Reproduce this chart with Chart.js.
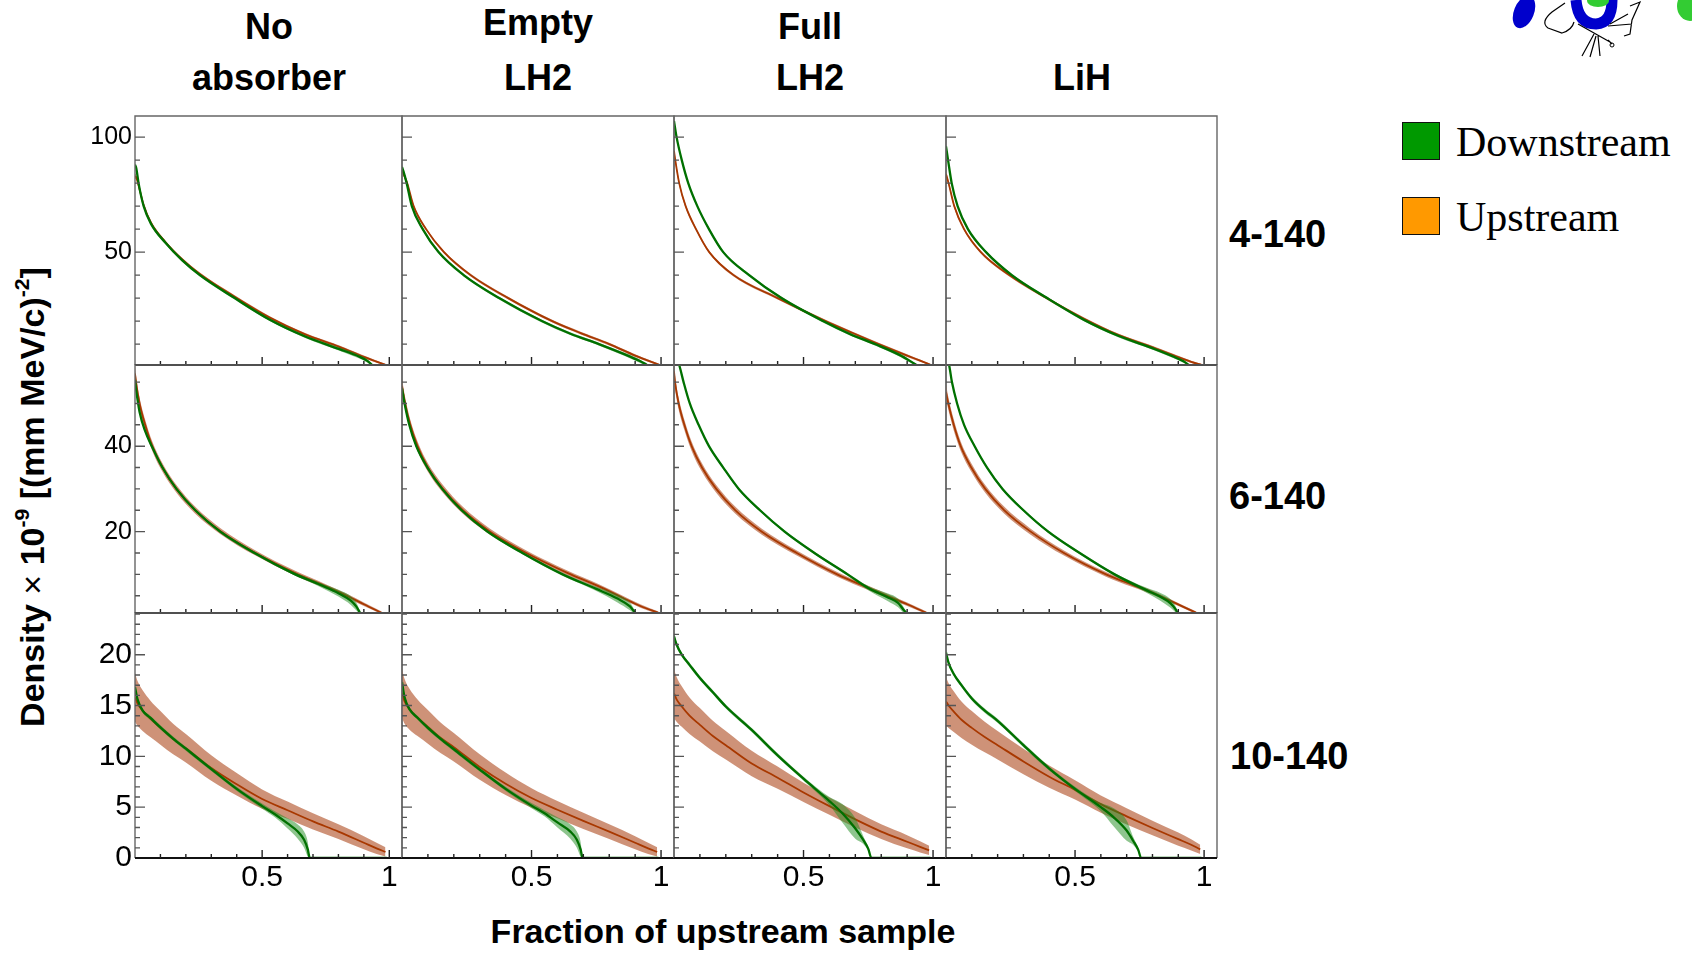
<!DOCTYPE html>
<html>
<head>
<meta charset="utf-8">
<script src="https://cdn.jsdelivr.net/npm/chart.js@4.4.1/dist/chart.umd.min.js"></script>
<style>
  body { margin: 0; width: 1692px; height: 954px; background: #fff; position: relative; overflow: hidden;
         font-family: "Liberation Sans", Arial, Helvetica, sans-serif; }
  canvas.panel { position: absolute; }
  .txt { position: absolute; white-space: nowrap; line-height: 1; color: #000; font-weight: bold; }
  .ctr { transform: translateX(-50%); }
  .leg { position: absolute; white-space: nowrap; line-height: 1; font-family: "Liberation Serif", "Times New Roman", serif; font-size: 42px; }
  .box { position: absolute; width: 36px; height: 36px; border: 1.5px solid #111; }
  sup { font-size: 62%; vertical-align: 0; position: relative; top: -0.7em; }
</style>
</head>
<body>

<!-- column titles -->
<div class="txt ctr" style="left:269px; top:9px; font-size:36px;">No</div>
<div class="txt ctr" style="left:269px; top:60px; font-size:36px;">absorber</div>
<div class="txt ctr" style="left:538px; top:5px; font-size:36px;">Empty</div>
<div class="txt ctr" style="left:538px; top:60px; font-size:36px;">LH2</div>
<div class="txt ctr" style="left:810px; top:9px; font-size:36px;">Full</div>
<div class="txt ctr" style="left:810px; top:60px; font-size:36px;">LH2</div>
<div class="txt ctr" style="left:1082px; top:60px; font-size:36px;">LiH</div>

<!-- row labels -->
<div class="txt" id="row0" style="left:1229px; top:215px; font-size:38px;"></div>
<div class="txt" id="row1" style="left:1229px; top:477px; font-size:38px;"></div>
<div class="txt" id="row2" style="left:1230px; top:737px; font-size:38px;"></div>

<!-- axis titles -->
<div class="txt" style="left:32px; top:497px; font-size:34px; transform: translate(-50%,-50%) rotate(-90deg);">
  Density <span style="font-weight:normal">&times;</span> 10<sup>-9</sup> [(mm MeV/c)<sup>-2</sup>]
</div>
<div class="txt ctr" style="left:723px; top:914px; font-size:34px;">Fraction of upstream sample</div>

<!-- legend -->
<div class="box" style="left:1402px; top:122px; background:#009900;"></div>
<div class="leg" style="left:1456px; top:121px;">Downstream</div>
<div class="box" style="left:1402px; top:197px; background:#ff9900;"></div>
<div class="leg" style="left:1456px; top:196px;">Upstream</div>

<!-- logo corner -->
<svg style="position:absolute; left:1500px; top:0;" width="192" height="60" viewBox="1500 0 192 60">
  <ellipse cx="1524" cy="12" rx="10" ry="17" transform="rotate(22 1524 12)" fill="#0000cc"/>
  <path d="M1576 0 Q1578 24 1596 24 Q1612 23 1612 0" fill="none" stroke="#0000cc" stroke-width="11"/>
  <ellipse cx="1598" cy="1" rx="11" ry="6" fill="#33cc33"/>
  <ellipse cx="1690" cy="6" rx="13" ry="15" fill="#33cc33"/>
  <path d="M1565 3 L1552 12 Q1540 22 1548 28 L1562 33 Q1572 30 1574 22" fill="none" stroke="#000" stroke-width="1.2"/>
  <path d="M1578 24 L1610 42 M1594 34 L1582 56 M1596 36 L1590 57 M1598 36 L1600 56 M1608 40 L1612 44"
        fill="none" stroke="#000" stroke-width="1.2"/>
  <path d="M1610 24 L1628 14 M1608 26 L1632 24 M1630 6 L1640 2 L1632 20 L1630 34 L1624 36"
        fill="none" stroke="#000" stroke-width="1.2"/>
  <circle cx="1612" cy="45" r="2" fill="none" stroke="#000" stroke-width="1"/>
</svg>

<script>
// ---------- data: [fraction of upstream sample, density, band half-width] ----------
const absorbers = ["No absorber", "Empty LH2", "Full LH2", "LiH"];
const rangeLabels = ["4-140", "6-140", "10-140"];

// 4-140
const upNone4 = [[0,83,1.2],[0.005,82.5,1],[0.014,79,0.9],[0.034,70.5,0.7],[0.063,62.8,0.6],[0.118,54.6,0.6],[0.186,46.8,0.6],
  [0.255,40.5,0.6],[0.392,30.6,0.6],[0.53,21.5,0.6],[0.667,14.3,0.6],[0.804,8.8,0.6],[0.9,4.4,0.6],[0.95,2.4,0.5],[0.985,1,0.4]];
const downNone4 = [[0,88,0.8],[0.005,86.5,0.8],[0.014,80,0.7],[0.034,70,0.6],[0.063,62.3,0.6],[0.118,54.3,0.6],[0.186,46.4,0.6],
  [0.255,40,0.6],[0.392,30,0.6],[0.53,20.6,0.6],[0.667,13.4,0.6],[0.804,7.8,0.7],[0.88,4.6,0.8],[0.915,2.6,0.7],[0.932,1,0.5]];
const upEmpty4 = [[0,86,1.2],[0.006,84,1],[0.02,80,0.9],[0.045,70,0.7],[0.093,60,0.6],[0.162,50,0.6],[0.265,40,0.6],
  [0.41,30,0.6],[0.58,20,0.6],[0.69,14.8,0.6],[0.8,10,0.6],[0.9,5,0.6],[0.95,2.8,0.5],[0.993,1,0.4]];
const downEmpty4 = [[0,87,0.8],[0.006,85,0.8],[0.018,80,0.7],[0.038,70,0.6],[0.08,60,0.6],[0.141,50,0.6],[0.238,40,0.6],
  [0.375,30,0.6],[0.54,20,0.6],[0.65,14.5,0.6],[0.76,10,0.6],[0.86,5.5,0.7],[0.92,2.5,0.7],[0.945,1,0.5]];
const upFull4 = [[0,94,1.5],[0.005,90,1.3],[0.02,80,1],[0.045,70,0.8],[0.085,60,0.7],[0.136,50,0.6],[0.23,40,0.6],
  [0.4,30,0.6],[0.585,20,0.6],[0.69,14.8,0.6],[0.79,10,0.6],[0.9,5,0.6],[0.95,2.8,0.5],[0.99,1,0.4]];
const downFull4 = [[0,107,1],[0.01,100,0.9],[0.03,90,0.8],[0.055,80,0.7],[0.09,70,0.6],[0.135,60,0.6],[0.19,50,0.6],
  [0.29,40,0.6],[0.415,30,0.6],[0.575,20,0.6],[0.68,14.3,0.6],[0.78,9.8,0.6],[0.87,5.3,0.7],[0.935,1,0.5]];
const upLih4 = [[0,84,1.3],[0.01,80,1],[0.032,70,0.8],[0.07,60,0.7],[0.135,50,0.6],[0.245,40,0.6],[0.39,30,0.6],
  [0.535,21,0.6],[0.667,14,0.6],[0.804,8.5,0.6],[0.9,4.3,0.6],[0.95,2.3,0.5],[0.99,1,0.4]];
const downLih4 = [[0,96,1],[0.008,90,0.9],[0.022,80,0.8],[0.045,70,0.7],[0.085,60,0.6],[0.155,50,0.6],[0.255,40,0.6],
  [0.392,30,0.6],[0.535,20.5,0.6],[0.667,13.6,0.6],[0.804,8,0.6],[0.88,4.6,0.7],[0.92,2.5,0.6],[0.94,1,0.5]];

// 6-140
const upNone6 = [[0,57,1.8],[0.004,55,1.6],[0.018,50,1.4],[0.04,45,1.2],[0.068,40,1.1],[0.108,35,1],[0.163,30,0.9],[0.237,25,0.8],
  [0.339,20,0.7],[0.474,15,0.6],[0.63,10.3,0.55],[0.75,7.2,0.5],[0.833,5,0.45],[0.9,3,0.4],[0.97,1,0.3]];
const downNone6 = [[0,55.5,0.5],[0.005,53,0.4],[0.018,48,0.3],[0.04,43.5,0.3],[0.066,40,0.3],[0.108,35,0.3],[0.163,30,0.3],[0.237,25,0.3],
  [0.335,20,0.3],[0.47,15,0.3],[0.62,10.3,0.35],[0.73,7.5,0.5],[0.8,5.6,0.8],[0.85,3.8,1],[0.87,2.5,0.9],[0.885,1,0.4]];
const upEmpty6 = [[0,54,1.8],[0.012,50,1.5],[0.032,45,1.2],[0.06,40,1.1],[0.1,35,1],[0.158,30,0.9],[0.235,25,0.8],[0.34,20,0.7],
  [0.48,15,0.6],[0.64,10.3,0.55],[0.76,7.2,0.5],[0.85,4.6,0.45],[0.92,2.6,0.4],[0.99,1,0.3]];
const downEmpty6 = [[0,53.5,0.5],[0.01,50,0.4],[0.028,45,0.3],[0.055,40,0.3],[0.098,35,0.3],[0.155,30,0.3],[0.23,25,0.3],[0.33,20,0.3],
  [0.465,15,0.3],[0.62,10,0.35],[0.75,6.6,0.5],[0.83,4.4,0.9],[0.88,2.5,0.9],[0.9,1,0.4]];
const upFull6 = [[0,57.5,1.8],[0.004,55,1.6],[0.018,50,1.4],[0.04,45,1.2],[0.068,40,1.1],[0.108,35,1],[0.163,30,0.9],[0.237,25,0.8],
  [0.339,20,0.7],[0.474,15,0.6],[0.63,10,0.55],[0.752,6.8,0.5],[0.833,4.7,0.45],[0.9,3,0.4],[0.975,1,0.3]];
const downFull6 = [[0,62,0.5],[0.02,59,0.4],[0.037,55,0.3],[0.061,50,0.3],[0.095,45,0.3],[0.135,40,0.3],[0.19,35,0.3],[0.25,30,0.3],
  [0.332,25,0.3],[0.427,20,0.3],[0.542,15,0.3],[0.67,10,0.35],[0.75,6.8,0.5],[0.826,4.6,0.9],[0.865,3.3,1],[0.885,1.8,0.7],[0.897,1,0.3]];
const upLih6 = [[0,52.7,1.8],[0.009,50,1.5],[0.03,45,1.3],[0.057,40,1.1],[0.098,35,1],[0.152,30,0.9],[0.226,25,0.8],[0.328,20,0.7],
  [0.457,15,0.6],[0.62,10,0.55],[0.72,7.6,0.5],[0.79,6,0.45],[0.87,3.8,0.4],[0.97,1,0.3]];
const downLih6 = [[0,61,0.5],[0.012,59,0.4],[0.023,55,0.3],[0.043,50,0.3],[0.07,45,0.3],[0.111,40,0.3],[0.159,35,0.3],[0.219,30,0.3],
  [0.3,25,0.3],[0.396,20,0.3],[0.518,15,0.3],[0.653,10,0.35],[0.78,6.2,0.6],[0.829,4.8,0.9],[0.87,3.2,1],[0.89,1.8,0.7],[0.897,1,0.3]];

// 10-140
const upNone10 = [[0,15.8,2.4],[0.01,15.2,2.2],[0.03,14.5,2],[0.06,13.7,1.8],[0.1,12.8,1.65],[0.15,11.7,1.5],[0.2,10.8,1.4],[0.3,8.85,1.25],
  [0.4,7.25,1.1],[0.5,5.8,0.95],[0.6,4.7,0.85],[0.7,3.6,0.8],[0.8,2.6,0.72],[0.9,1.5,0.65],[0.95,0.95,0.55],[0.985,0.6,0.45]];
const downNone10 = [[0,16.8,0.3],[0.01,15.6,0.25],[0.03,14.5,0.2],[0.06,13.8,0.2],[0.1,12.85,0.2],[0.15,11.75,0.2],[0.2,10.75,0.2],
  [0.3,8.75,0.2],[0.4,6.8,0.2],[0.5,5.1,0.25],[0.55,4.3,0.3],[0.6,3.4,0.5],[0.64,2.6,0.7],[0.665,1.8,0.8],[0.68,0.8,0.7],[0.687,0,0.05],[0.99,0,0.05]];
const upEmpty10 = [[0,16.2,2.4],[0.01,15.4,2.2],[0.03,14.6,2],[0.06,13.8,1.8],[0.1,12.9,1.65],[0.15,11.8,1.5],[0.2,10.9,1.4],[0.3,8.95,1.25],
  [0.4,7.3,1.1],[0.5,5.9,0.95],[0.6,4.75,0.85],[0.7,3.65,0.8],[0.8,2.6,0.72],[0.9,1.5,0.65],[0.95,0.95,0.55],[0.985,0.6,0.45]];
const downEmpty10 = [[0,17.3,0.3],[0.01,15.8,0.25],[0.03,14.6,0.2],[0.06,13.8,0.2],[0.1,12.8,0.2],[0.15,11.7,0.2],[0.2,10.7,0.2],
  [0.3,8.7,0.2],[0.4,6.8,0.2],[0.5,5.15,0.25],[0.55,4.4,0.3],[0.6,3.5,0.5],[0.65,2.6,0.7],[0.675,1.8,0.8],[0.69,0.8,0.7],[0.697,0,0.05],[0.99,0,0.05]];
const upFull10 = [[0,16.2,2.4],[0.01,15.6,2.2],[0.03,14.9,2],[0.06,14,1.8],[0.1,13.1,1.65],[0.15,12,1.5],[0.2,11.1,1.4],[0.3,9.3,1.25],
  [0.4,7.9,1.1],[0.5,6.45,0.95],[0.6,5.1,0.85],[0.7,3.8,0.8],[0.8,2.6,0.72],[0.9,1.6,0.65],[0.95,1.1,0.55],[0.985,0.75,0.45]];
const downFull10 = [[0,21.8,0.3],[0.01,21,0.25],[0.03,20,0.2],[0.06,19,0.2],[0.1,17.7,0.2],[0.15,16.3,0.2],[0.2,14.9,0.2],
  [0.3,12.6,0.2],[0.4,10.1,0.2],[0.5,7.8,0.2],[0.6,5.6,0.4],[0.65,4.4,0.9],[0.7,2.9,1],[0.73,1.8,0.4],[0.75,0.9,0.2],[0.762,0,0.05],[0.99,0,0.05]];
const upLih10 = [[0,15.4,2.4],[0.01,15,2.2],[0.03,14.4,2],[0.06,13.6,1.8],[0.1,12.8,1.65],[0.15,11.9,1.5],[0.2,11.1,1.4],[0.3,9.5,1.25],
  [0.4,8,1.1],[0.5,6.7,0.95],[0.6,5.3,0.85],[0.7,4.1,0.8],[0.8,2.95,0.72],[0.9,1.85,0.65],[0.95,1.3,0.55],[0.985,0.85,0.45]];
const downLih10 = [[0,20.2,0.3],[0.01,19.2,0.25],[0.03,18.1,0.2],[0.06,17,0.2],[0.1,15.7,0.2],[0.15,14.5,0.2],[0.2,13.5,0.2],
  [0.3,11.1,0.2],[0.4,8.8,0.2],[0.5,6.8,0.2],[0.6,5,0.4],[0.65,4,0.9],[0.7,2.7,1],[0.725,1.7,0.4],[0.745,0.8,0.2],[0.756,0,0.05],[0.99,0,0.05]];

// axis ticks
const xTickLabels = [0.5, 1];
const yTicks4 = [50, 100];
const yTicks6 = [20, 40];
const yTicks10 = [0, 5, 10, 15, 20];

// ---------- layout ----------
const colLeft = [135, 402, 674, 946, 1217];
const rowTop = [116, 365, 613, 858];
const padL = 70, padR = 6, padT = 6, padB = 50;
const fontFamily = '"Liberation Sans", Arial, Helvetica, sans-serif';

const rows = [
  { up: [upNone4, upEmpty4, upFull4, upLih4], down: [downNone4, downEmpty4, downFull4, downLih4],
    min: 0.9, max: 109.2, ticks: yTicks4, minor: 10, size: 25 },
  { up: [upNone6, upEmpty6, upFull6, upLih6], down: [downNone6, downEmpty6, downFull6, downLih6],
    min: 0.96, max: 59, ticks: yTicks6, minor: 5, size: 25 },
  { up: [upNone10, upEmpty10, upFull10, upLih10], down: [downNone10, downEmpty10, downFull10, downLih10],
    min: 0, max: 24.1, ticks: yTicks10, minor: 1, size: 30 }
];

// frame + inward ticks, ROOT style
const frameTicks = {
  id: 'frameTicks',
  afterDatasetsDraw(chart, args, opts) {
    const { ctx, chartArea: a, scales: { x, y } } = chart;
    ctx.save();
    ctx.lineWidth = 1.4;
    ctx.strokeStyle = '#666';
    ctx.beginPath();
    ctx.moveTo(a.left, a.bottom); ctx.lineTo(a.left, a.top); ctx.lineTo(a.right, a.top); ctx.lineTo(a.right, a.bottom);
    ctx.stroke();
    ctx.strokeStyle = '#111';
    ctx.lineWidth = 2;
    ctx.beginPath();
    ctx.moveTo(a.left, a.bottom); ctx.lineTo(a.right, a.bottom);
    ctx.stroke();

    ctx.lineWidth = 1.4;
    ctx.strokeStyle = '#222';
    ctx.beginPath();
    for (let i = 1; i <= 10; i++) {
      const px = x.getPixelForValue(i / 10);
      const len = i % 5 === 0 ? 8 : 4;
      ctx.moveTo(px, a.bottom); ctx.lineTo(px, a.bottom - len);
    }
    ctx.stroke();

    ctx.strokeStyle = '#555';
    ctx.beginPath();
    for (let k = Math.ceil(y.min / opts.minor); k * opts.minor < y.max; k++) {
      const v = k * opts.minor;
      if (v <= y.min) continue;
      const py = y.getPixelForValue(v);
      const len = opts.major.includes(v) ? 10 : 5;
      ctx.moveTo(a.left, py); ctx.lineTo(a.left + len, py);
    }
    ctx.stroke();
    ctx.restore();
  }
};

const GREEN = '#007000', GREEN_BAND = 'rgba(30,140,30,0.5)';
const BROWN = '#a83800', BROWN_BAND = 'rgba(190,110,75,0.75)';

const pts = (series, sign) => series.map(p => ({ x: p[0], y: p[1] + sign * p[2] }));

function makePanel(r, c) {
  const row = rows[r];
  const w = colLeft[c + 1] - colLeft[c];
  const h = rowTop[r + 1] - rowTop[r];
  const cv = document.createElement('canvas');
  cv.className = 'panel';
  cv.width = w + padL + padR;
  cv.height = h + padT + padB;
  cv.style.left = (colLeft[c] - padL) + 'px';
  cv.style.top = (rowTop[r] - padT) + 'px';
  cv.style.width = cv.width + 'px';
  cv.style.height = cv.height + 'px';
  document.body.appendChild(cv);

  const up = row.up[c];
  const down = row.down[c];
  const line = { pointRadius: 0, cubicInterpolationMode: 'monotone', fill: false };
  const band = { pointRadius: 0, cubicInterpolationMode: 'monotone', borderWidth: 0, borderColor: 'rgba(0,0,0,0)' };

  new Chart(cv, {
    type: 'line',
    data: {
      datasets: [
        { ...line, label: 'Downstream', data: pts(down, 0), borderColor: GREEN, borderWidth: 2.3, order: 0 },
        { ...band, data: pts(down, 1), fill: false, order: 1 },
        { ...band, data: pts(down, -1), fill: 1, backgroundColor: GREEN_BAND, order: 1 },
        { ...line, label: 'Upstream', data: pts(up, 0), borderColor: BROWN, borderWidth: 1.8, order: 2 },
        { ...band, data: pts(up, 1), fill: false, order: 3 },
        { ...band, data: pts(up, -1), fill: 4, backgroundColor: BROWN_BAND, order: 3 }
      ]
    },
    options: {
      responsive: false,
      animation: false,
      devicePixelRatio: 1,
      layout: { autoPadding: false, padding: { left: 0, right: padR, top: padT, bottom: 0 } },
      plugins: {
        legend: { display: false },
        tooltip: { enabled: false },
        frameTicks: { major: row.ticks, minor: row.minor }
      },
      scales: {
        x: {
          type: 'linear', min: 0, max: 1.05,
          grid: { display: false, drawTicks: false },
          border: { display: false },
          afterBuildTicks: s => { s.ticks = xTickLabels.map(v => ({ value: v })); },
          afterFit: s => { s.height = padB; s.paddingLeft = 0; s.paddingRight = 0; },
          ticks: {
            display: r === 2, color: '#000', padding: 2, maxRotation: 0, autoSkip: false,
            font: { family: fontFamily, size: 30 },
            callback: v => String(v)
          }
        },
        y: {
          type: 'linear', min: row.min, max: row.max,
          grid: { display: false, drawTicks: false },
          border: { display: false },
          afterBuildTicks: s => { s.ticks = row.ticks.map(v => ({ value: v })); },
          afterFit: s => { s.width = padL; s.paddingTop = 0; s.paddingBottom = 0; },
          ticks: {
            display: c === 0, color: '#000', padding: 3, autoSkip: false,
            font: { family: fontFamily, size: row.size },
            callback: v => String(v)
          }
        }
      }
    },
    plugins: [frameTicks]
  });
}

rangeLabels.forEach((t, i) => { document.getElementById('row' + i).textContent = t; });
for (let r = 0; r < rows.length; r++) {
  for (let c = 0; c < absorbers.length; c++) makePanel(r, c);
}
</script>
</body>
</html>
